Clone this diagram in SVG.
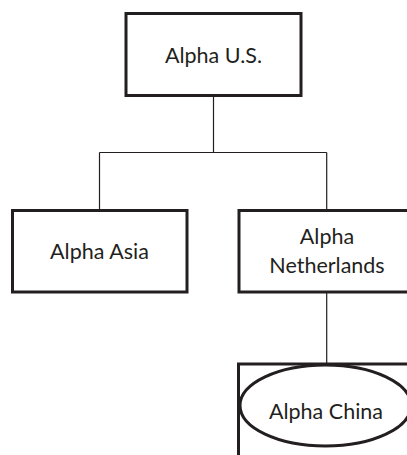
<svg xmlns="http://www.w3.org/2000/svg" width="407" height="455" viewBox="0 0 407 455">
<style>
.box{fill:#fff;stroke:#231f20;stroke-width:3}
.conn{fill:none;stroke:#231f20;stroke-width:1.2}
.lbl{font-family:Lato,"Open Sans",sans-serif;font-size:21.5px;fill:#231f20;text-anchor:middle}
</style>
<rect width="407" height="455" fill="#fff"/>
<g id="connectors">
<path class="conn" d="M213.5 96 V152.5 M99.5 152.5 H326.7 M99.5 152.5 V210 M326.7 152.5 V210"/>
<path class="conn" d="M326.7 292 V364" stroke-width="1.5"/>
</g>
<g id="alpha-us">
<rect class="box" x="126" y="13.5" width="175" height="82"/>
<text class="lbl" x="213.5" y="62.5">Alpha U.S.</text>
</g>
<g id="alpha-asia">
<rect class="box" x="12.5" y="210.5" width="174.5" height="81.5"/>
<text class="lbl" x="99.5" y="259">Alpha Asia</text>
</g>
<g id="alpha-netherlands">
<rect class="box" x="239" y="210.5" width="175" height="81.5"/>
<text class="lbl" x="327" y="244">Alpha</text>
<text class="lbl" x="327" y="273">Netherlands</text>
</g>
<g id="alpha-china">
<rect class="box" x="238.5" y="364" width="175" height="100"/>
<ellipse class="box" cx="325.5" cy="405.5" rx="85.5" ry="40.5"/>
<text class="lbl" x="326" y="419">Alpha China</text>
</g>
</svg>
